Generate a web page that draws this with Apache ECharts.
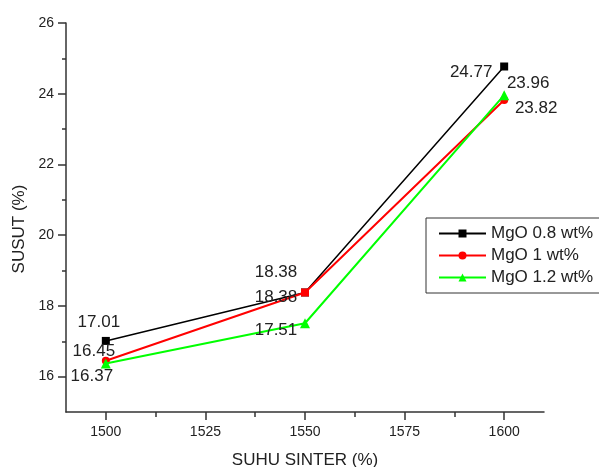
<!DOCTYPE html>
<html>
<head>
<meta charset="utf-8">
<script src="https://cdn.jsdelivr.net/npm/echarts@6/dist/echarts.min.js"></script>
<style>html,body{margin:0;padding:0;background:#fff}#c{width:599px;height:467px}</style>
</head>
<body>
<div id="c"></div>
<script>
// ---- data ----
const temperatures = [1500, 1550, 1600];
const seriesNames = ['MgO 0.8 wt%', 'MgO 1 wt%', 'MgO 1.2 wt%'];
const mgo08 = [17.01, 18.38, 24.77];
const mgo10 = [16.45, 18.38, 23.82];
const mgo12 = [16.37, 17.51, 23.96];
const xTicks = [1500, 1525, 1550, 1575, 1600];
const xMinorTicks = [1512.5, 1537.5, 1562.5, 1587.5];
const yTicks = [16, 18, 20, 22, 24, 26];
const yMinorTicks = [17, 19, 21, 23, 25];

// ---- styles ----
const colors = ['#000000', '#ff0000', '#00ff00'];
const symbols = ['rect', 'circle', 'triangle'];
const symbolSizes = [8, 8, 10];
const lineWidths = [1.5, 2, 2];
const labelOffsets = [
  [[-7, -19], [-29, -20], [-33, 6]],
  [[-12, -9], [-29, 5], [32, 8]],
  [[-14, 13], [-29, 7], [24, -12]]
];
const allValues = [mgo08, mgo10, mgo12];
const textColor = '#222';
const font = 'Liberation Sans, Arial, sans-serif';

const chart = echarts.init(document.getElementById('c'));

const series = allValues.map((vals, si) => ({
  name: seriesNames[si],
  type: 'line',
  xAxisIndex: 0,
  yAxisIndex: 0,
  symbol: symbols[si],
  symbolSize: symbolSizes[si],
  showAllSymbol: true,
  itemStyle: { color: colors[si] },
  lineStyle: { color: colors[si], width: lineWidths[si] },
  z: 3 + si,
  data: vals.map((v, i) => ({
    value: [temperatures[i], v],
    symbol: (si === 1 && i === 1) ? 'rect' : symbols[si],
    label: {
      show: true,
      position: 'inside',
      offset: labelOffsets[si][i],
      formatter: (p) => p.value[1].toFixed(2),
      color: textColor,
      fontSize: 17,
      fontFamily: font
    }
  })),
  emphasis: { disabled: true },
  animation: false
}));

chart.setOption({
  animation: false,
  grid: { left: 66, right: 55, top: 23, bottom: 55, containLabel: false, outerBoundsMode: 'none' },
  legend: {
    orient: 'vertical',
    left: 426,
    top: 218,
    padding: [7, 18, 7, 12],
    itemWidth: 47,
    itemHeight: 10,
    itemGap: 5,
    borderColor: '#333',
    borderWidth: 1,
    textStyle: { color: textColor, fontSize: 17, fontFamily: font, padding: [0, 0, 0, 0] },
    data: seriesNames
  },
  xAxis: [{
    type: 'value',
    min: 1490,
    max: 1610,
    name: 'SUHU SINTER (%)',
    nameLocation: 'middle',
    nameGap: 40,
    nameTextStyle: { color: textColor, fontSize: 17, fontFamily: font },
    axisLine: { show: true, lineStyle: { color: '#333', width: 1.5 } },
    axisTick: { show: true, inside: false, length: 8, customValues: xTicks, lineStyle: { color: '#333', width: 1.5 } },
    axisLabel: { show: true, customValues: xTicks, margin: 13, color: textColor, fontSize: 14, fontFamily: font, formatter: (v) => String(v) },
    splitLine: { show: false }
  }, {
    type: 'value',
    position: 'bottom',
    min: 1490,
    max: 1610,
    axisLine: { show: false },
    axisTick: { show: true, inside: false, length: 5, customValues: xMinorTicks, lineStyle: { color: '#333', width: 1.5 } },
    axisLabel: { show: false },
    splitLine: { show: false }
  }],
  yAxis: [{
    type: 'value',
    min: 15,
    max: 26,
    name: 'SUSUT (%)',
    nameLocation: 'middle',
    nameGap: 35,
    nameRotate: 90,
    nameTextStyle: { color: textColor, fontSize: 17, fontFamily: font, padding: [0, 23, 0, 0] },
    axisLine: { show: true, lineStyle: { color: '#333', width: 1.5 } },
    axisTick: { show: true, inside: false, length: 8, customValues: yTicks, lineStyle: { color: '#333', width: 1.5 } },
    axisLabel: { show: true, customValues: yTicks, margin: 12, color: textColor, fontSize: 14, fontFamily: font, formatter: (v) => String(v) },
    splitLine: { show: false }
  }, {
    type: 'value',
    position: 'left',
    min: 15,
    max: 26,
    axisLine: { show: false },
    axisTick: { show: true, inside: false, length: 4, customValues: yMinorTicks, lineStyle: { color: '#333', width: 1.5 } },
    axisLabel: { show: false },
    splitLine: { show: false }
  }],
  series: series
});
</script>
</body>
</html>
